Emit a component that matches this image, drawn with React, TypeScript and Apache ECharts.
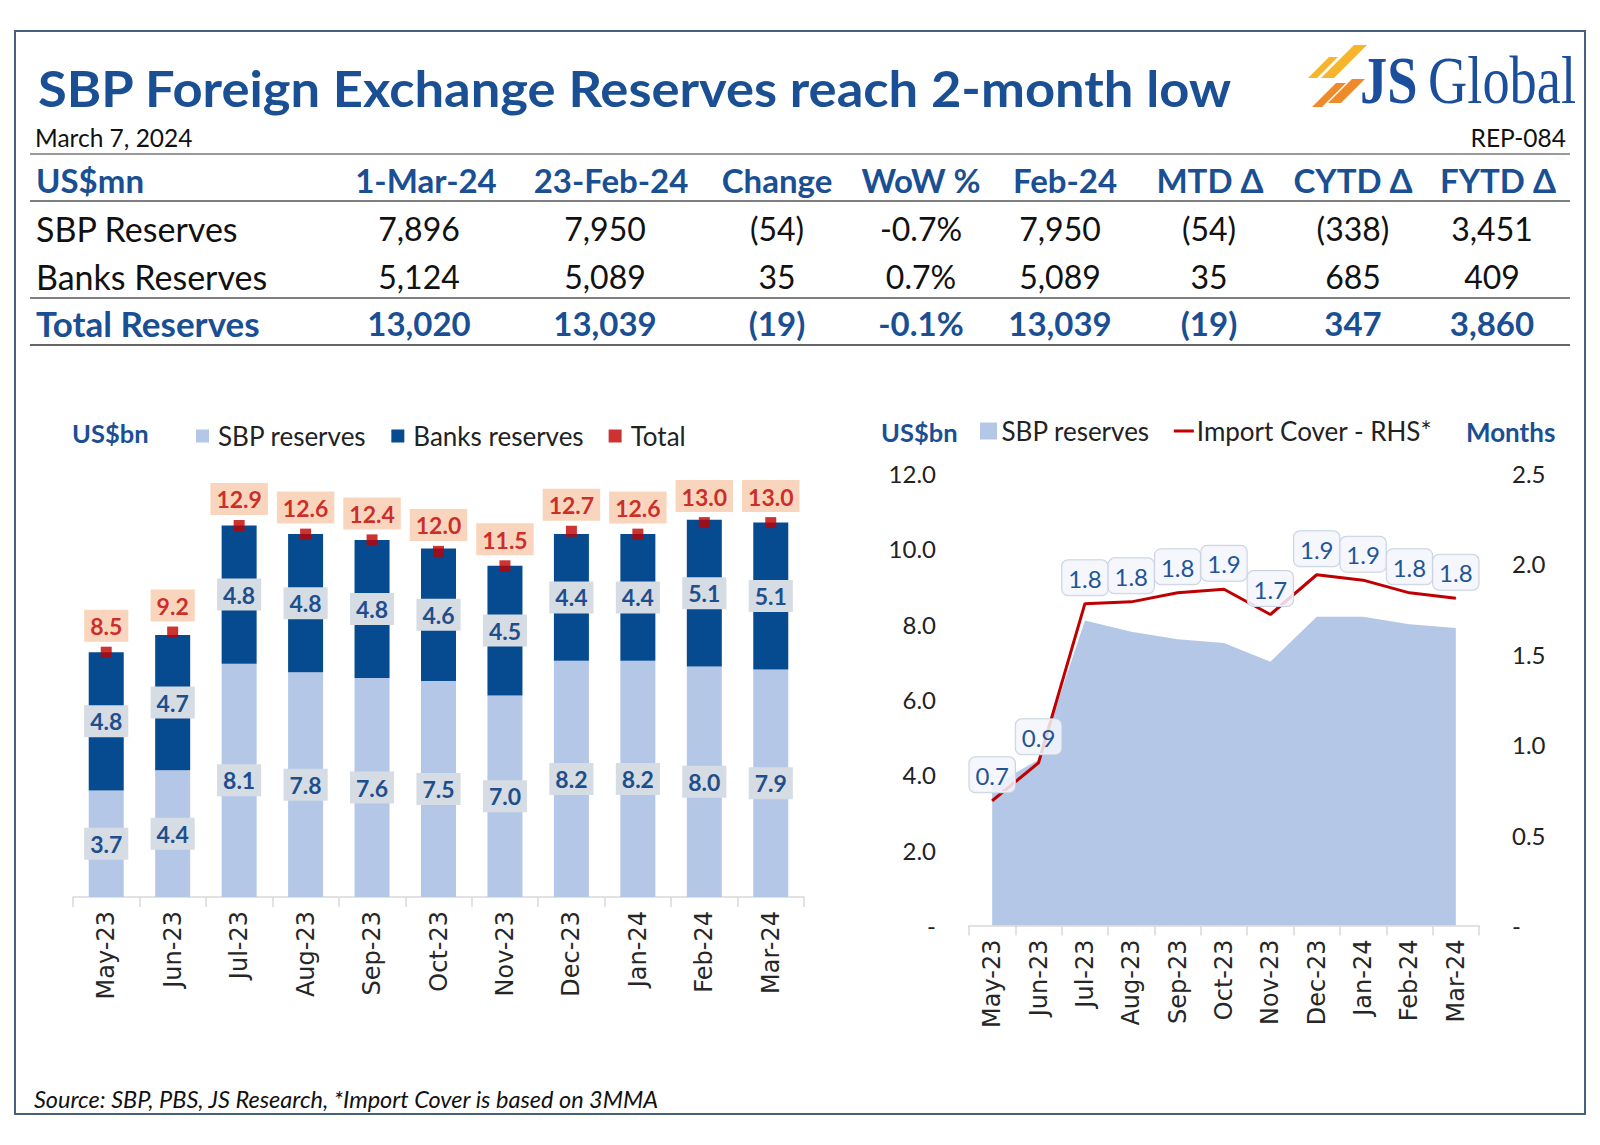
import React, { useEffect, useRef } from 'react';
import * as echarts from 'echarts';

// ---------- data ----------
const months = ['May-23', 'Jun-23', 'Jul-23', 'Aug-23', 'Sep-23', 'Oct-23', 'Nov-23', 'Dec-23', 'Jan-24', 'Feb-24', 'Mar-24'];
const sbpReserves = [3.7, 4.4, 8.1, 7.8, 7.6, 7.5, 7.0, 8.2, 8.2, 8.0, 7.9];
const banksReserves = [4.8, 4.7, 4.8, 4.8, 4.8, 4.6, 4.5, 4.4, 4.4, 5.1, 5.1];
const totalReserves = [8.5, 9.2, 12.9, 12.6, 12.4, 12.0, 11.5, 12.7, 12.6, 13.0, 13.0];
const importCover = [0.69, 0.9, 1.78, 1.79, 1.84, 1.86, 1.72, 1.94, 1.91, 1.84, 1.81];

const tableHeaders = ['1-Mar-24', '23-Feb-24', 'Change', 'WoW %', 'Feb-24', 'MTD Δ', 'CYTD Δ', 'FYTD Δ'];
const rowLabels = ['SBP Reserves', 'Banks Reserves', 'Total Reserves'];
const sbpRow = ['7,896', '7,950', '(54)', '-0.7%', '7,950', '(54)', '(338)', '3,451'];
const banksRow = ['5,124', '5,089', '35', '0.7%', '5,089', '35', '685', '409'];
const totalRow = ['13,020', '13,039', '(19)', '-0.1%', '13,039', '(19)', '347', '3,860'];

// ---------- layout / style ----------
const BLUE = '#1a4f93';
const RED = '#C00000';
const LIGHT = '#B4C7E7';
const DARK = '#064a8f';
const SANS = 'Lato, "Open Sans", sans-serif';
const headerX = [426, 611, 777, 921, 1065, 1210, 1353, 1498];
const valueX = [419, 605, 777, 921, 1060, 1209, 1353, 1492];

function txt(x: number, y: number, text: string, o: any = {}) {
  return {
    type: 'text',
    x,
    y,
    z: 10,
    ...(o.extra || {}),
    style: {
      text,
      fill: o.fill || '#111',
      fontSize: o.size || 30,
      fontWeight: o.weight || 'normal',
      fontStyle: o.style || 'normal',
      fontFamily: o.family || SANS,
      align: o.align || 'left',
      verticalAlign: 'middle',
    },
  };
}
function hline(y: number, color: string, w = 1.5) {
  return { type: 'line', shape: { x1: 30, y1: y, x2: 1570, y2: y }, style: { stroke: color, lineWidth: w } };
}

export default function App() {
  const ref = useRef<HTMLDivElement>(null);
  useEffect(() => {
    if (!ref.current) return;
    const chart = echarts.init(ref.current, undefined, { renderer: 'svg' });

    const graphic: any[] = [];
    graphic.push({ type: 'rect', shape: { x: 15, y: 31, width: 1570, height: 1083 }, style: { fill: 'none', stroke: '#45617d', lineWidth: 2 } });
    graphic.push(txt(38, 87, 'SBP Foreign Exchange Reserves reach 2-month low', { size: 50, weight: 'bold', fill: BLUE, extra: { scaleX: 1.05 } }));
    // logo
    graphic.push({ type: 'polygon', shape: { points: [[1308, 78], [1317, 78], [1338, 57], [1329, 57]] }, style: { fill: '#F7B52C' } });
    graphic.push({ type: 'polygon', shape: { points: [[1321, 78], [1334, 78], [1367, 45], [1354, 45]] }, style: { fill: '#F7B52C' } });
    graphic.push({ type: 'polygon', shape: { points: [[1312, 107], [1322, 107], [1346, 83], [1336, 83]] }, style: { fill: '#EF8A2A' } });
    graphic.push({ type: 'polygon', shape: { points: [[1328, 103], [1341, 103], [1365, 79], [1352, 79]] }, style: { fill: '#EF8A2A' } });
    graphic.push({ type: 'text', x: 1360, y: 80, scaleX: 0.8, z: 10, style: { text: 'JS', fill: '#1b4f9c', fontSize: 68, fontWeight: 'bold', fontFamily: '"Liberation Serif", serif', verticalAlign: 'middle' } });
    graphic.push({ type: 'text', x: 1428, y: 80, scaleX: 0.8, z: 10, style: { text: 'Global', fill: '#1b4f9c', fontSize: 68, fontFamily: '"Liberation Serif", serif', verticalAlign: 'middle' } });

    graphic.push(txt(35, 137, 'March 7, 2024', { size: 24.5 }));
    graphic.push(txt(1566, 137, 'REP-084', { size: 24.5, align: 'right' }));
    graphic.push(hline(154, '#9a9a9a', 2));
    graphic.push(hline(201, '#555', 1.5));
    graphic.push(hline(298, '#555', 1.5));
    graphic.push(hline(345, '#333', 1.5));

    graphic.push(txt(36, 180, 'US$mn', { size: 33, weight: 'bold', fill: BLUE }));
    tableHeaders.forEach((h, i) => graphic.push(txt(headerX[i], 180, h, { size: 33, weight: 'bold', fill: BLUE, align: 'center' })));
    const rows = [sbpRow, banksRow, totalRow];
    const rowY = [228, 276, 323];
    rows.forEach((r, ri) => {
      const bold = ri === 2;
      graphic.push(txt(36, rowY[ri], rowLabels[ri], { size: bold ? 35 : 34, weight: bold ? 'bold' : 'normal', fill: bold ? BLUE : '#111' }));
      r.forEach((v, i) => graphic.push(txt(valueX[i], rowY[ri], v, { size: bold ? 33 : 32, weight: bold ? 'bold' : 'normal', fill: bold ? BLUE : '#111', align: 'center' })));
    });

    graphic.push(txt(72, 433, 'US$bn', { size: 25.5, weight: 'bold', fill: BLUE }));
    graphic.push(txt(881, 432, 'US$bn', { size: 25.5, weight: 'bold', fill: BLUE }));
    graphic.push(txt(1466, 432, 'Months', { size: 26, weight: 'bold', fill: BLUE }));
    graphic.push(txt(34, 1099, 'Source: SBP, PBS, JS Research, *Import Cover is based on 3MMA', { size: 23.5, style: 'italic' }));

    const axisLabelX = { rotate: 90, fontSize: 24, fontFamily: '"DejaVu Sans", sans-serif', color: '#262626', margin: 14 };
    const axisLineX = { lineStyle: { color: '#D9D9D9', width: 1.5 } };
    const axisTickX = { show: true, length: 10, lineStyle: { color: '#D9D9D9', width: 1.5 } };
    const yLab = (v: number) => (v === 0 ? '-' : v.toFixed(1));

    const barLabel = {
      show: true,
      position: 'inside',
      formatter: (p: any) => Number(p.value).toFixed(1),
      backgroundColor: '#D6DCE4',
      color: '#1F4E8C',
      fontSize: 23,
      fontWeight: 'bold',
      fontFamily: SANS,
      padding: [5, 6, 4, 6],
    };

    chart.setOption({
      animation: false,
      backgroundColor: '#fff',
      graphic,
      legend: [
        {
          left: 196,
          top: 423,
          padding: 0,
          itemWidth: 13,
          itemHeight: 13,
          itemGap: 25,
          selectedMode: false,
          icon: 'rect',
          data: ['SBP reserves', 'Banks reserves', 'Total'],
          textStyle: { fontSize: 26, fontFamily: SANS, color: '#222', padding: [0, 0, 0, 4] },
        },
        {
          left: 980,
          top: 418,
          padding: 0,
          itemWidth: 20,
          itemHeight: 17,
          itemGap: 24,
          selectedMode: false,
          data: [
            { name: 'SBP reserves', icon: 'path://M0,0H10V10H0Z' },
            { name: 'Import Cover - RHS*', icon: 'path://M0,0H20V3H0Z' },
          ],
          textStyle: { fontSize: 26, fontFamily: SANS, color: '#222', padding: [0, 0, 0, -2] },
        },
      ],
      grid: [
        { left: 73, width: 731, top: 465, height: 432 },
        { left: 969, width: 510, top: 473.5, height: 452 },
      ],
      xAxis: [
        { type: 'category', gridIndex: 0, data: months, axisLine: axisLineX, axisTick: axisTickX, axisLabel: axisLabelX },
        { type: 'category', gridIndex: 1, data: months, axisLine: axisLineX, axisTick: axisTickX, axisLabel: axisLabelX },
      ],
      yAxis: [
        { type: 'value', gridIndex: 0, min: 0, max: 15, show: false },
        {
          type: 'value', gridIndex: 1, min: 0, max: 12, interval: 2, position: 'left',
          axisLine: { show: false }, axisTick: { show: false }, splitLine: { show: false },
          axisLabel: { formatter: yLab, fontSize: 24, fontFamily: SANS, color: '#222', margin: 33 },
        },
        {
          type: 'value', gridIndex: 1, min: 0, max: 2.5, interval: 0.5, position: 'right',
          axisLine: { show: false }, axisTick: { show: false }, splitLine: { show: false },
          axisLabel: { formatter: yLab, fontSize: 24, fontFamily: SANS, color: '#222', margin: 33 },
        },
      ],
      series: [
        {
          name: 'SBP reserves', type: 'bar', stack: 'res', xAxisIndex: 0, yAxisIndex: 0, barWidth: 35,
          data: sbpReserves, itemStyle: { color: LIGHT }, label: barLabel,
        },
        {
          name: 'Banks reserves', type: 'bar', stack: 'res', xAxisIndex: 0, yAxisIndex: 0, barWidth: 35,
          data: banksReserves, itemStyle: { color: DARK }, label: barLabel,
        },
        {
          name: 'Total', type: 'scatter', xAxisIndex: 0, yAxisIndex: 0, symbol: 'rect', symbolSize: 11,
          data: totalReserves, itemStyle: { color: RED }, z: 5,
          label: {
            show: true, position: 'top', distance: 5,
            formatter: (p: any) => Number(p.value).toFixed(1),
            backgroundColor: '#F8CBAD', color: RED, fontSize: 23, fontWeight: 'bold', fontFamily: SANS,
            padding: [5, 6, 4, 6],
          },
        },
        {
          name: 'SBP reserves', type: 'line', xAxisIndex: 1, yAxisIndex: 1, data: sbpReserves,
          symbol: 'none', lineStyle: { width: 0 }, itemStyle: { color: LIGHT },
          areaStyle: { color: LIGHT, opacity: 1 },
        },
        {
          name: 'Import Cover - RHS*', type: 'line', xAxisIndex: 1, yAxisIndex: 2, data: importCover,
          symbol: 'circle', symbolSize: 1, showSymbol: true, z: 5,
          lineStyle: { color: RED, width: 3 }, itemStyle: { color: RED },
          label: {
            show: true, position: 'top', distance: 8,
            formatter: (p: any) => Number(p.value).toFixed(1),
            backgroundColor: 'rgba(243,246,251,0.85)', borderColor: '#C9D3E0', borderWidth: 1, borderRadius: 6,
            color: '#1F5597', fontSize: 24, fontFamily: SANS, padding: [6, 6, 5, 6],
          },
        },
      ],
    });
    return () => chart.dispose();
  }, []);
  return <div ref={ref} style={{ position: 'absolute', left: 0, top: 0, width: 1600, height: 1145 }} />;
}
